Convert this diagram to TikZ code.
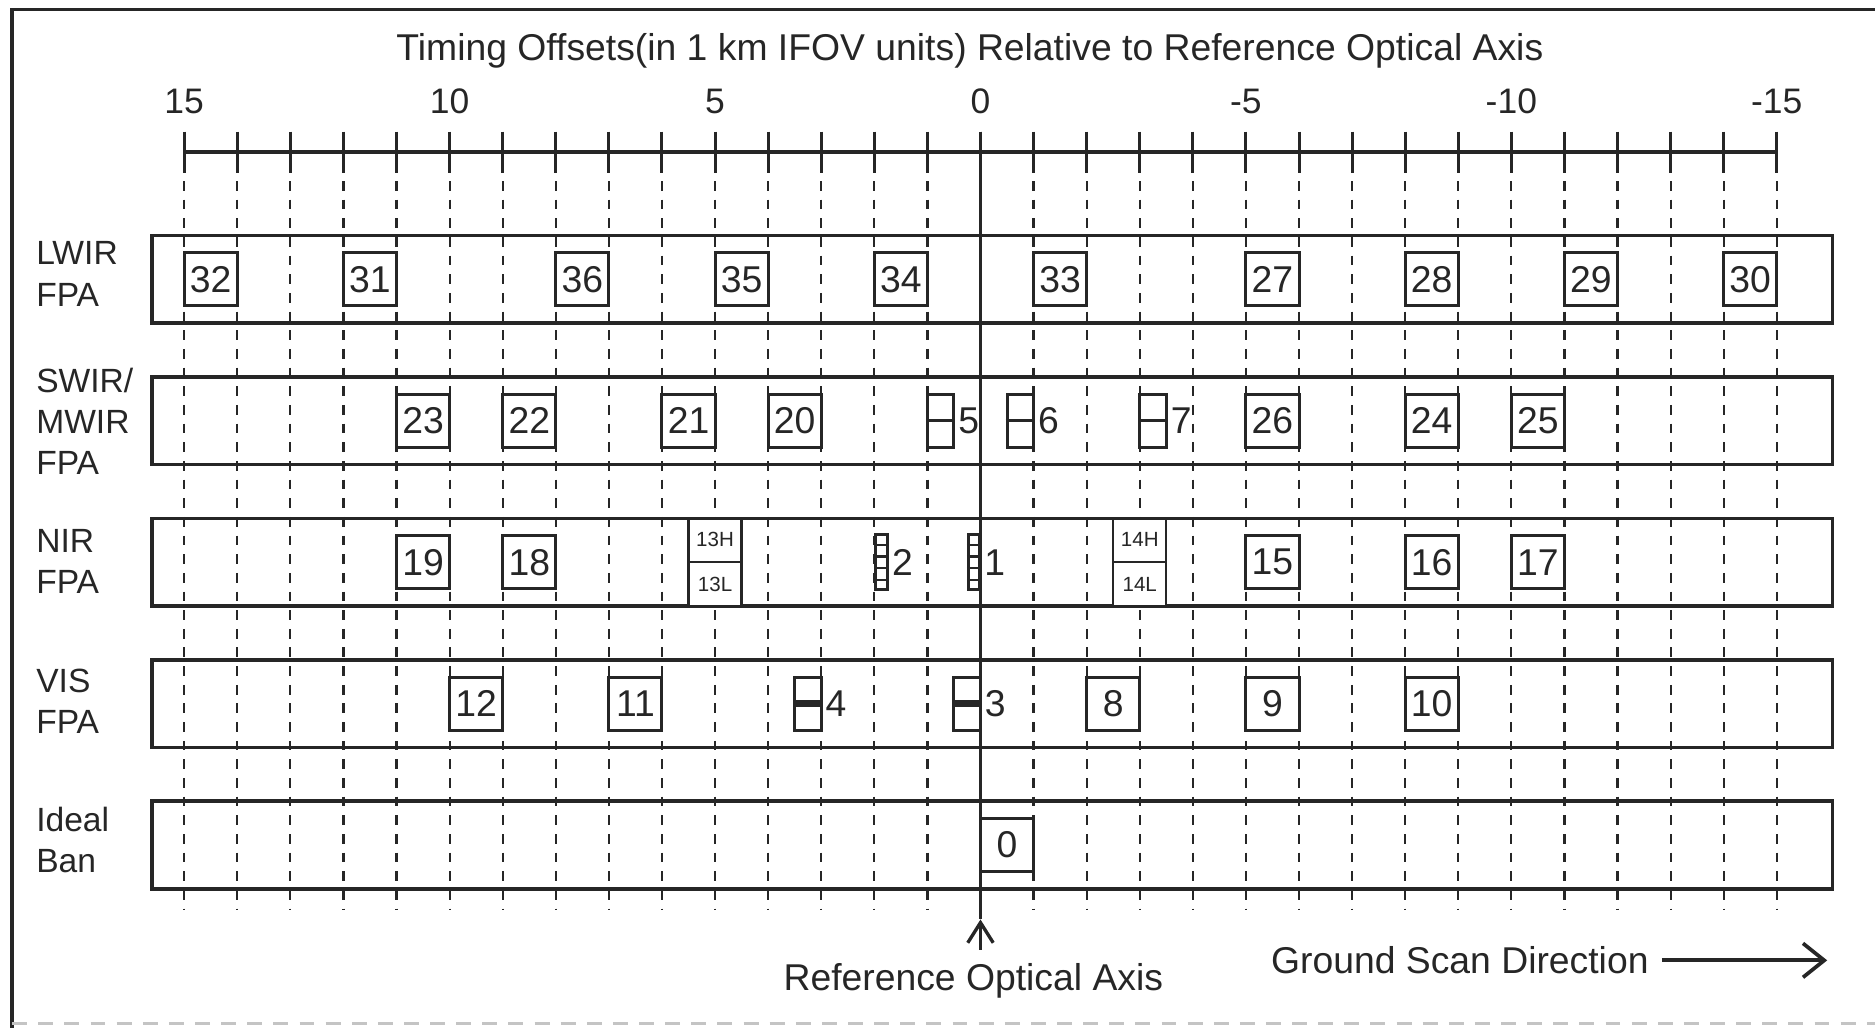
\documentclass[tikz,border=0pt]{standalone}
\usepackage{fontspec}
\setmainfont{Liberation Sans}
\usepackage{xcolor}
\usepackage{tikz}
\usetikzlibrary{arrows.meta,positioning,calc}
\definecolor{ink}{HTML}{262626}
\definecolor{scan}{HTML}{C4C4C4}

\begin{document}
\begin{tikzpicture}[x=0.5cm,y=0.5cm,
fpaband/.style={draw=ink,line width=1pt,minimum width=15.825cm,minimum height=0.825cm,inner sep=0pt},
chanbox/.style={draw=ink,fill=white,line width=0.8pt,minimum size=5mm,inner sep=0pt,text=ink,font=\fontsize{10}{12}\selectfont},
halfbox/.style={draw=ink,fill=white,line width=0.8pt,minimum width=2.5mm,minimum height=5mm,inner sep=0pt},
slimbox/.style={draw=ink,fill=white,line width=0.8pt,minimum width=1.1mm,minimum height=5.2mm,inner sep=0pt},
pairbox/.style={draw=ink,fill=white,line width=0.6pt,minimum width=5mm,minimum height=8.25mm,inner sep=0pt},
sidetag/.style={anchor=west,inner sep=0.6pt,text=ink,font=\fontsize{10}{12}\selectfont},
tiny/.style={inner sep=0pt,text=ink,font=\fontsize{5.5}{6}\selectfont},
fpa/.style={anchor=west,align=left,inner sep=0pt,text=ink,font=\fontsize{9}{11}\selectfont},
gridline/.style={draw=ink,line width=0.6pt,dash pattern=on 2.6pt off 2.4pt},
arrh/.style={draw=ink,line width=0.9pt,-{Straight Barb[length=1.9mm,width=2.4mm]}},
arrs/.style={draw=ink,line width=1pt,-{Straight Barb[length=2mm,width=3.2mm]}}
]
\useasboundingbox (-18.47,-16.51) rectangle (16.85,2.86);
% frame
\draw[ink,line width=1pt] (16.85,2.68) -- (-18.24,2.68) -- (-18.24,-16.51);
\draw[scan,line width=1pt,dash pattern=on 4pt off 3pt] (-18.24,-16.42) -- (16.85,-16.42);

% scale
\node[text=ink,font=\fontsize{10}{12}\selectfont] (title) at (-0.2,1.91) {Timing Offsets(in 1 km IFOV units) Relative to Reference Optical Axis};
\draw[ink,line width=1pt] (-15,0) -- (15,0);
\foreach \x in {-15,...,15} \draw[ink,line width=0.8pt] (\x,0.38) -- (\x,-0.4);
\foreach \x/\v in {-15/15,-10/10,-5/5,0/0,5/-5,10/-10,15/-15}
  \node[text=ink,inner sep=0pt,font=\fontsize{9.5}{11}\selectfont] (num\x) at (\x,0.95) {\v};

% focal plane bands
\node[fpaband] (lwir) at (0.225,-2.4) {};
\node[fpaband] (swir) at (0.225,-5.065) {};
\node[fpaband] (nir) at (0.225,-7.73) {};
\node[fpaband] (vis) at (0.225,-10.395) {};
\node[fpaband] (ideal) at (0.225,-13.06) {};
\node[fpa] (lwirl) at (-17.8,-2.3) {LWIR\\FPA};
\node[fpa] (swirl) at (-17.8,-5.07) {SWIR/\\MWIR\\FPA};
\node[fpa] (nirl) at (-17.8,-7.72) {NIR\\FPA};
\node[fpa] (visl) at (-17.8,-10.35) {VIS\\FPA};
\node[fpa] (ideall) at (-17.8,-12.97) {Ideal\\Ban};

\foreach \x in {-15,...,-1,1,2,...,15} \draw[gridline] (\x,-0.55) -- (\x,-14.26);
\draw[ink,line width=1pt] (0,0.38) -- (0,-14.46);

% band detectors
\foreach \x/\y/\t in {-14.5/-2.4/32,-11.5/-2.4/31,-7.5/-2.4/36,-4.5/-2.4/35,-1.5/-2.4/34,1.5/-2.4/33,5.5/-2.4/27,8.5/-2.4/28,11.5/-2.4/29,14.5/-2.4/30,
  -10.5/-5.065/23,-8.5/-5.065/22,-5.5/-5.065/21,-3.5/-5.065/20,5.5/-5.065/26,8.5/-5.065/24,10.5/-5.065/25,
  -10.5/-7.73/19,-8.5/-7.73/18,5.5/-7.73/15,8.5/-7.73/16,10.5/-7.73/17,
  -9.5/-10.395/12,-6.5/-10.395/11,2.5/-10.395/8,5.5/-10.395/9,8.5/-10.395/10,
  0.5/-13.06/0}
  \node[chanbox] (b\t) at (\x,\y) {\t};

\foreach \t/\x in {5/-0.75,6/0.75,7/3.25}{
  \node[halfbox] (b\t) at (\x,-5.065) {};
  \draw[ink,line width=0.8pt] (b\t.west) -- (b\t.east);
  \node[sidetag] (t\t) at (b\t.east) {\t};
}
\foreach \t/\x in {4/-3.25,3/-0.25}{
  \node[halfbox] (b\t) at (\x,-10.395) {};
  \draw[ink,line width=1.8pt] (b\t.west) -- (b\t.east);
  \node[sidetag] (t\t) at (b\t.east) {\t};
}
\foreach \t/\x in {2/-1.86,1/-0.12}{
  \node[slimbox] (b\t) at (\x,-7.73) {};
  \foreach \f in {0.2,0.4,0.6,0.8}
    \draw[ink,line width=0.6pt] ($(b\t.south west)!\f!(b\t.north west)$) -- ($(b\t.south east)!\f!(b\t.north east)$);
  \node[sidetag] (t\t) at (b\t.east) {\t};
}
\foreach \t/\x in {13/-5,14/3}{
  \node[pairbox] (b\t) at (\x,-7.73) {};
  \draw[ink,line width=0.6pt] (b\t.west) -- (b\t.east);
  \node[tiny] (t\t h) at (\x,-7.31) {\t H};
  \node[tiny] (t\t l) at (\x,-8.15) {\t L};
}

% bottom labels
\node[text=ink,font=\fontsize{10}{12}\selectfont] (refax) at (-0.135,-15.61) {Reference Optical Axis};
\coordinate (axtip) at (0,-14.46);
\draw[arrh] (refax.north -| axtip) -- (axtip);
\node[text=ink,font=\fontsize{10}{12}\selectfont] (scandir) at (9.03,-15.23) {Ground Scan Direction};
\coordinate (scantip) at (15.95,-15.23);
\draw[arrs] (scandir.east) -- (scantip);
\end{tikzpicture}
\end{document}
